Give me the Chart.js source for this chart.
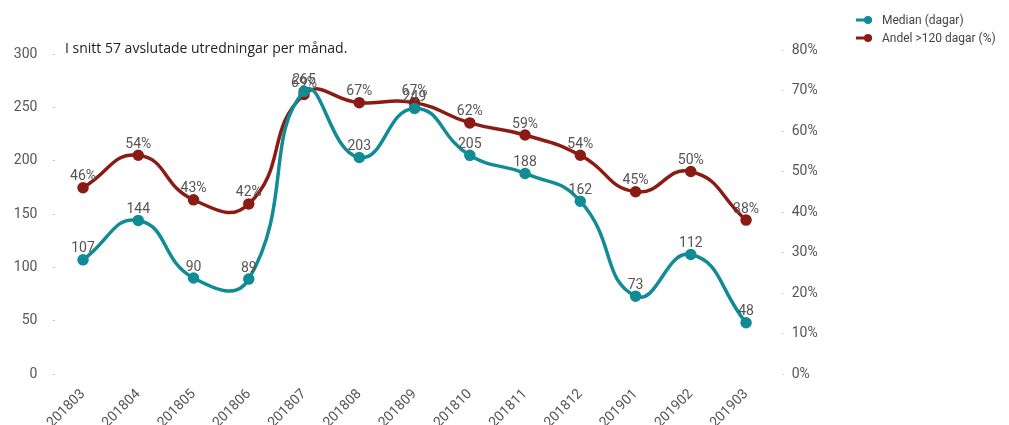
<!DOCTYPE html>
<html>
<head>
<meta charset="utf-8">
<script src="https://cdn.jsdelivr.net/npm/chart.js@4"></script>
<style>
  html, body { margin: 0; padding: 0; background: #fff; }
  #wrap { position: relative; width: 1009px; height: 425px; }
  #note { position: absolute; left: 65px; top: 38px; font: 14px "Open Sans", sans-serif; color: #222; }
  #legend { position: absolute; left: 855px; top: 11px; font: 12px Roboto, sans-serif; color: #444; }
  .item { height: 18px; display: flex; align-items: center; }
  .item svg { margin-right: 9px; }
</style>
</head>
<body>
<div id="wrap">
  <canvas id="chart" width="1009" height="425"></canvas>
  <div id="note">I snitt 57 avslutade utredningar per månad.</div>
  <div id="legend"></div>
</div>
<script>
const months = ['201803', '201804', '201805', '201806', '201807', '201808', '201809',
                '201810', '201811', '201812', '201901', '201902', '201903'];
const median = [107, 144, 90, 89, 265, 203, 249, 205, 188, 162, 73, 112, 48];
const andel = [46, 54, 43, 42, 69, 67, 67, 62, 59, 54, 45, 50, 38];
const leftTicks = [0, 50, 100, 150, 200, 250, 300];
const rightTicks = [0, 10, 20, 30, 40, 50, 60, 70, 80];

const teal = '#118c96';
const red = '#8b1c15';

// legend
const legend = document.getElementById('legend');
[['Median (dagar)', teal], ['Andel >120 dagar (%)', red]].forEach(([name, col]) => {
    legend.innerHTML += `
        <div class="item">
            <svg width="18" height="10"><line x1="1" y1="5" x2="17" y2="5" stroke="${col}" stroke-width="3"/><circle cx="13" cy="5" r="4" fill="${col}"/></svg>
            <span>${name}</span>
        </div>`;
});

// data labels above each point
const labelPlugin = {
    id: 'pointLabels',
    afterDatasetsDraw(chart) {
        const ctx = chart.ctx;
        ctx.save();
        ctx.font = '14px Roboto, sans-serif';
        ctx.fillStyle = '#555';
        ctx.textAlign = 'center';
        ctx.textBaseline = 'bottom';
        chart.data.datasets.forEach((ds, i) => {
            chart.getDatasetMeta(i).data.forEach((pt, j) => {
                const v = ds.data[j];
                ctx.fillText(i === 1 ? v + '%' : v, pt.x, pt.y - 4);
            });
        });
        ctx.restore();
    }
};

const tickFont = { family: 'Roboto, sans-serif', size: 14 };

new Chart(document.getElementById('chart'), {
    type: 'line',
    data: {
        labels: months,
        datasets: [{
            label: 'Median (dagar)',
            data: median,
            yAxisID: 'y',
            borderColor: teal,
            backgroundColor: teal,
            borderWidth: 3.5,
            pointRadius: 4,
            tension: 0.5
        }, {
            label: 'Andel >120 dagar (%)',
            data: andel,
            yAxisID: 'y1',
            borderColor: red,
            backgroundColor: red,
            borderWidth: 3.5,
            pointRadius: 4,
            tension: 0.5
        }]
    },
    options: {
        responsive: false,
        animation: false,
        layout: { padding: { top: 50, left: 0, right: 0, bottom: 0 } },
        plugins: { legend: { display: false }, tooltip: { enabled: false } },
        scales: {
            x: {
                offset: true,
                grid: { display: false },
                border: { display: false },
                ticks: { color: '#555', font: { family: 'Roboto, sans-serif', size: 14 }, minRotation: 45, maxRotation: 45, padding: 4 },
                afterFit(s) { s.height = 51; }
            },
            y: {
                position: 'left',
                min: 0,
                max: 303.75,
                border: { display: false },
                grid: { drawOnChartArea: false, tickLength: 10, color: '#ccc', tickBorderDash: [0, 7, 3, 100] },
                ticks: { color: '#555', font: tickFont, padding: 8 },
                afterBuildTicks(s) { s.ticks = leftTicks.map(v => ({ value: v })); },
                afterFit(s) { s.width = 55.4; }
            },
            y1: {
                position: 'right',
                min: 0,
                max: 80,
                border: { display: false },
                grid: { drawOnChartArea: false, tickLength: 10, color: '#ccc', tickBorderDash: [0, 8, 4, 100] },
                ticks: { color: '#555', font: tickFont, padding: 8, callback: v => v + '%' },
                afterBuildTicks(s) { s.ticks = rightTicks.map(v => ({ value: v })); },
                afterFit(s) { s.width = 235.3; }
            }
        }
    },
    plugins: [labelPlugin]
});
</script>
</body>
</html>
